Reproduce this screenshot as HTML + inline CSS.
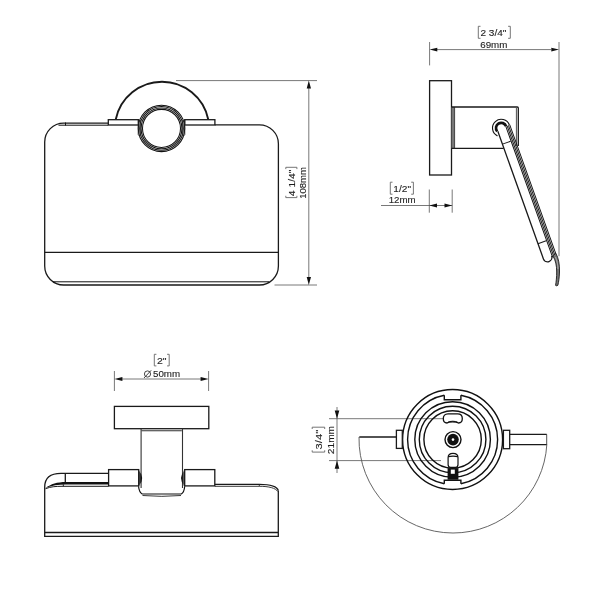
<!DOCTYPE html>
<html><head><meta charset="utf-8">
<style>
html,body{margin:0;padding:0;background:#fff;width:600px;height:600px;overflow:hidden}
svg{display:block;will-change:transform}
text{font-family:"Liberation Sans",sans-serif;fill:#1e1e1e;stroke:#1e1e1e;stroke-width:0.12px;font-size:9.3px}
.o{fill:none;stroke:#1a1a1a;stroke-width:1.3}
.t{fill:none;stroke:#222;stroke-width:0.8}
.d{fill:none;stroke:#555;stroke-width:0.8}
.a{fill:#111;stroke:none}
</style></head>
<body>
<svg width="600" height="600" viewBox="0 0 600 600">
<!-- ============ FRONT VIEW (top-left) ============ -->
<g id="front">
  <!-- body -->
  <path class="o" d="M108.2 123.1 H63.7 A19 19 0 0 0 44.7 142.1 V266 A19 19 0 0 0 63.7 285 H259.4 A19 19 0 0 0 278.4 266 V143.8 A19 19 0 0 0 259.4 124.8 H214.9"/>
  <path class="t" d="M58.5 125.2 H108.2 M65.5 122.5 V125.5" style="stroke-width:1;stroke:#111"/>
  <path class="t" d="M53 281.8 H269" style="stroke-width:1;stroke:#111"/>
  <path class="o" d="M44.7 252.4 H278.4"/>
  <!-- dome -->
  <path class="o" d="M115.8 119.3 A47.2 47.2 0 0 1 208.2 119.3" style="stroke-width:1.9"/>
  <!-- plates -->
  <rect class="o" x="108.3" y="119.7" width="30.2" height="5.3"/>
  <rect class="o" x="184.7" y="119.7" width="30.2" height="5.3"/>
  <!-- ring -->
  <circle cx="161.5" cy="128.4" r="23.3" fill="#fff"/>
  <circle class="t" cx="161.5" cy="128.4" r="23.2" style="stroke-width:1.05;stroke:#111"/>
  <circle class="t" cx="161.5" cy="128.4" r="21.8" style="stroke-width:1.05;stroke:#111"/>
  <circle class="t" cx="161.5" cy="128.4" r="20.4" style="stroke-width:1.05;stroke:#111"/>
  <circle class="t" cx="161.5" cy="128.4" r="19.0" style="stroke-width:1.05;stroke:#111"/>
  <path class="t" d="M138.2 120 V134.5 Q138.5 136 140.3 136 V120 M184.8 120 V134.5 Q184.5 136 182.7 136 V120"/>
  <!-- vertical dimension -->
  <path class="d" d="M176 80.6 H317 M274.5 285 H317 M308.8 88 V278"/>
  <path class="a" d="M308.8 80.6 L306.7 88.5 L311 88.5 Z M308.8 285 L306.7 277 L311 277 Z"/>
</g>

<!-- ============ SIDE VIEW (top-right) ============ -->
<g id="side">
  <path class="d" d="M429.6 42 V65.4 M559 42 V256.2 M437 49.6 H551"/>
  <path class="a" d="M429.6 49.6 L437.3 47.7 L437.3 51.6 Z M559 49.6 L551.3 47.7 L551.3 51.6 Z"/>
  <!-- flange -->
  <rect class="o" x="429.6" y="80.7" width="21.9" height="94.3"/>
  <!-- arm -->
  <rect x="451.5" y="107" width="3" height="41.3" fill="#777"/>
  <path class="o" d="M451.5 107 H517.3 Q518.3 107 518.3 108 V146 M451.5 148.3 H503.7"/>
  <path class="t" d="M454.6 107 V148.3 M516.4 108 V146"/>
  <!-- rod (local frame) -->
  <g transform="translate(501.2,128) rotate(-19.67)">
    <path class="o" d="M-4.3 2 V137.5 A4.35 4.35 0 0 0 4.4 137.5"/>
    <path class="t" d="M4.9 0 V139 M6.3 0 V138.5 M7.7 0 V138 M9.1 0 V137" style="stroke-width:0.95;stroke:#111"/>
    <path fill="none" stroke="#111" stroke-width="2.7" d="M-4.886 1.778 A5.2 5.2 0 1 1 5.2 0"/>
    <path class="t" d="M-6.152 6.152 A8.7 8.7 0 1 1 8.7 0" style="stroke-width:1.15;stroke:#111"/>
    <path class="t" d="M-4.3 15.6 H4.4 M-4.3 121.3 H4.4" style="stroke-width:1;stroke:#1a1a1a"/>
  </g>
  <path fill="#777" stroke="#1a1a1a" stroke-width="0.9" d="M555.8 253.3 C558.6 258 559.7 265 559.5 272 C559.3 278 558.6 282 557.9 285.2 Q557 286.4 555.6 285.4 C556.2 281.5 556.7 277 556.7 272 C556.7 265.5 555.6 260 552.8 255.8 Z"/>
  <path fill="none" stroke="#ddd" stroke-width="0.5" d="M555.4 257 C557.2 261 557.9 265 558 269"/>
  <!-- 1/2 dimension -->
  <path class="d" d="M429.3 189.5 V212.7 M452.2 189.5 V212.7 M381 205.5 H452.2"/>
  <path class="a" d="M429.3 205.5 L437 203.4 L437 207.6 Z M452.2 205.5 L444.5 203.4 L444.5 207.6 Z"/>
</g>

<!-- ============ TOP VIEW (bottom-left) ============ -->
<g id="top">
  <path class="d" d="M114.4 371 V391 M208.6 371 V391 M122 379 H201"/>
  <path class="a" d="M114.4 379 L122.4 376.9 L122.4 381.1 Z M208.6 379 L200.6 376.9 L200.6 381.1 Z"/>
  <!-- flange -->
  <rect class="o" x="114.4" y="406.4" width="94.4" height="22.3"/>
  <!-- stem -->
  <path fill="none" stroke="#333" stroke-width="1.1" d="M141.1 428.7 V488 M182.5 428.7 V488 M141.8 430.8 H181.8"/>
  <path fill="none" stroke="#111" stroke-width="1.2" d="M138.5 486.2 Q139.2 492.3 142.2 494 H181.3 Q184.2 492.3 184.7 486.2"/>
  <path fill="none" stroke="#222" stroke-width="0.9" d="M142.5 495.5 Q161.8 497.2 181 495.5"/>
  <path fill="#111" d="M138.6 470.2 Q145.9 478.2 138.6 486.2 Z M184.6 470.2 Q177.3 478.2 184.6 486.2 Z"/>
  <path fill="none" stroke="#888" stroke-width="0.7" d="M139.8 470.5 V486 M183.4 470.5 V486"/>
  <!-- blocks -->
  <rect class="o" x="108.6" y="469.6" width="30.1" height="16.3"/>
  <rect class="o" x="184.7" y="469.6" width="30.1" height="16.3"/>
  <!-- body -->
  <path class="o" d="M44.7 487 V536.3 H278.3 V490.5 M44.7 532.5 H278.3"/>
  <path class="o" d="M44.7 487 C44.7 477.5 50.5 473.3 61 473.3 H108.6 M65.3 473.3 V482.5"/>
  <path d="M45.5 488 C51 484 57 482 66 482 H108.6 V484.4 H66 C58 484.4 52 485.5 45.5 488 Z" fill="#111"/>
  <path class="t" d="M45.5 488.7 C51 486.7 55 486.3 62 486.3 H108.6 M63.3 484.3 V486.3" style="stroke-width:1;stroke:#1a1a1a"/>
  <path class="o" d="M214.8 484.3 H259.3 C270 484.3 277 486 278.3 490.5"/>
  <path class="t" d="M214.8 486.3 H259.3 C269 486.3 275.5 488 277.8 491.5 M259.3 484.3 V486.3" style="stroke-width:0.9"/>
</g>

<!-- ============ BOTTOM VIEW (bottom-right) ============ -->
<g id="bottom">
  <path class="d" d="M329 418.7 H443.7 M329 460.6 H441 M337 407 V473"/>
  <path class="a" d="M337 418.7 L334.7 410.5 L339.3 410.5 Z M337 460.6 L334.7 468.8 L339.3 468.8 Z"/>
  <!-- big arc -->
  <path fill="none" stroke="#555" stroke-width="0.9" d="M359.02 437 A94 94 0 0 0 453 533 A94 94 0 0 0 546.84 444.5"/>
  <!-- arms -->
  <path class="o" d="M359.3 436.9 H396.4" style="stroke-width:1.5"/>
  <path class="o" d="M509.7 434.4 H546.7 M509.7 444.7 H546.7"/>
  <path class="t" d="M546.7 434.4 V444.7"/>
  <!-- rings -->
  <g fill="none" stroke="#111" stroke-width="1.4">
    <circle cx="452.6" cy="439.5" r="50"/>
    <path d="M444.3 395.27 V399.8 H460.9 V395.27 M444.3 483.73 V480.2 H460.9 V483.73"/>
    <path d="M460.9 395.27 A45 45 0 0 1 460.9 483.73 M444.3 483.73 A45 45 0 0 1 444.3 395.27"/>
    <circle cx="452.6" cy="439.5" r="37.8"/>
    <circle cx="452.6" cy="439.5" r="33.3"/>
    <circle cx="452.6" cy="439.5" r="28.7"/>
  </g>
  <rect class="o" x="396.4" y="430.3" width="5.9" height="18.1" style="fill:#fff"/>
  <rect class="o" x="503.4" y="430.3" width="6.3" height="18.4" style="fill:#fff"/>
  <!-- slot -->
  <path fill="#fff" stroke="#111" stroke-width="1.3" d="M448 413.8 H457.6 C461 413.8 462.3 416 462.3 418.5 C462.3 421.5 461 423 458.5 423 C456 421.5 449 421.5 447 423 C444.5 423 443.3 421.5 443.3 418.5 C443.3 416 445 413.8 448 413.8 Z"/>
  <path fill="none" stroke="#111" stroke-width="1" d="M447.5 422.5 C450 420.8 455.5 420.8 458 422.5"/>
  <!-- screw -->
  <circle cx="453" cy="439.6" r="8.0" fill="none" stroke="#111" stroke-width="1.4"/>
  <circle cx="453" cy="439.6" r="5.8" fill="#111"/>
  <circle cx="453" cy="439.6" r="1.3" fill="#fff"/>
  <!-- catch -->
  <path fill="#fff" stroke="#111" stroke-width="1.2" d="M448.1 464.5 V457.5 C448.1 454.5 450.5 453.3 453 453.3 C455.6 453.3 458 454.5 458 457.5 V464.5 Q458 467.3 455.5 467.3 H450.6 Q448.1 467.3 448.1 464.5 Z M448.5 456.8 C450.5 455.8 455.5 455.8 457.6 456.8"/>
  <path d="M447.6 468.1 H458.4 V479.7 H447.6 Z" fill="#111"/>
  <path d="M450.8 469.6 H454.8 V473.8 H450.8 Z" fill="#fff"/>
</g>

<!-- ============ LABELS ============ -->
<g id="labels" class="lab">
  <path fill="none" stroke="#666" stroke-width="0.9" d="
    M480.5 26.3 H478.3 V38.3 H480.5 M508.1 26.3 H510.3 V38.3 H508.1
    M392.5 182.2 H390.3 V194.2 H392.5 M411.2 182.2 H413.4 V194.2 H411.2
    M156.4 354.3 H154.3 V365.9 H156.4 M167.1 354.3 H169.2 V365.9 H167.1
    M285.8 195.8 V197.6 H296.9 V195.8 M285.8 169.1 V167.3 H296.9 V169.1
    M312.2 450.3 V452.1 H324.7 V450.3 M312.2 429 V427.2 H324.7 V429"/>
  <text id="t1" textLength="25.88" lengthAdjust="spacingAndGlyphs" x="493.45" y="36" text-anchor="middle">2 3/4"</text>
  <text id="t2" textLength="27.14" lengthAdjust="spacingAndGlyphs" x="493.85" y="47.7" text-anchor="middle">69mm</text>
  <text id="t3" textLength="17.73" lengthAdjust="spacingAndGlyphs" x="402.15" y="191.5" text-anchor="middle">1/2"</text>
  <text id="t4" textLength="26.94" lengthAdjust="spacingAndGlyphs" x="402.15" y="202.9" text-anchor="middle">12mm</text>
  <text id="t5" textLength="9.58" lengthAdjust="spacingAndGlyphs" x="161.75" y="363.8" text-anchor="middle">2"</text>
  <text id="t6" textLength="27.14" lengthAdjust="spacingAndGlyphs" x="166.55" y="377" text-anchor="middle">50mm</text>
  <circle cx="147.5" cy="374" r="3.1" fill="none" stroke="#333" stroke-width="0.9"/>
  <path d="M144 378 L151.2 370.3" stroke="#333" stroke-width="0.9"/>
  <text id="t7" textLength="26.68" lengthAdjust="spacingAndGlyphs" transform="translate(295,182.85) rotate(-90)" x="0" y="0" text-anchor="middle">4 1/4"</text>
  <text id="t8" textLength="31.62" lengthAdjust="spacingAndGlyphs" transform="translate(306.1,183) rotate(-90)" x="0" y="0" text-anchor="middle">108mm</text>
  <text id="t9" textLength="19.53" lengthAdjust="spacingAndGlyphs" transform="translate(321.7,439.65) rotate(-90)" x="0" y="0" text-anchor="middle">3/4"</text>
  <text id="t10" textLength="28.32" lengthAdjust="spacingAndGlyphs" transform="translate(334.2,440.05) rotate(-90)" x="0" y="0" text-anchor="middle">21mm</text>
</g>
</svg>
</body></html>
